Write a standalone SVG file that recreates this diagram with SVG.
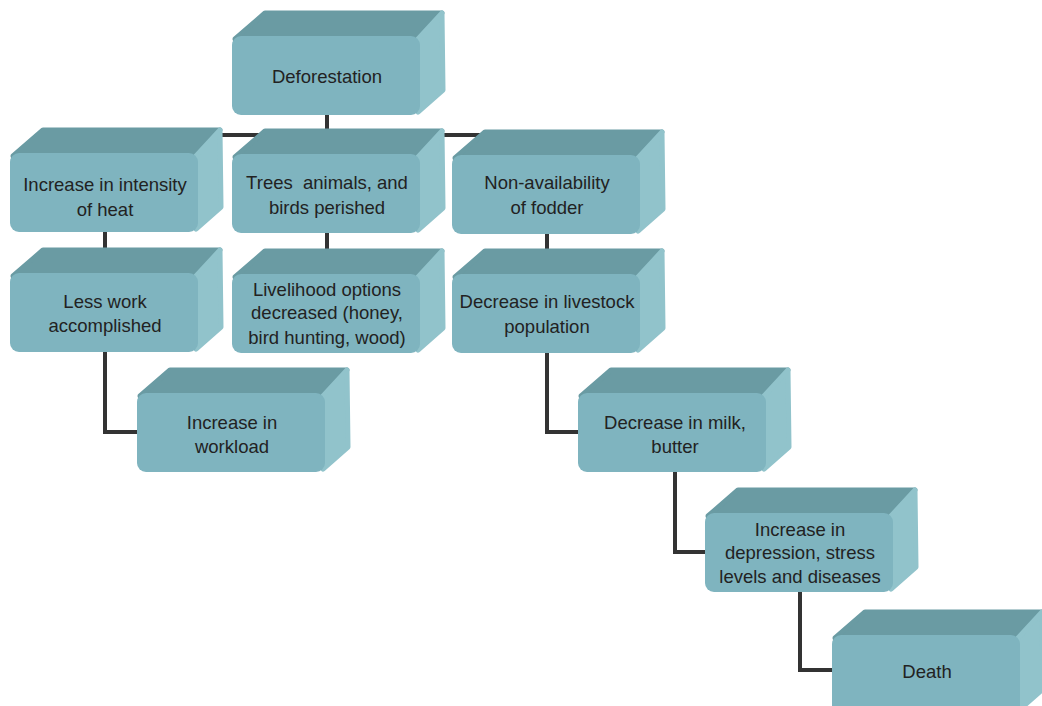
<svg xmlns="http://www.w3.org/2000/svg" xmlns:xlink="http://www.w3.org/1999/xlink" width="1042" height="706" viewBox="0 0 1042 706">
<style>
.top{fill:#6a9ba3;stroke:#6a9ba3;stroke-width:5;stroke-linejoin:round}
.side{fill:#91c3cb;stroke:#91c3cb;stroke-width:5;stroke-linejoin:round}
.front{fill:#7fb4bf}
.conn{fill:none;stroke:#333333;stroke-width:4}
text{font-family:"Liberation Sans",Arial,sans-serif;font-size:18.5px;fill:#222222;text-anchor:middle}
</style>
<defs>
<g id="box">
<polygon class="top" points="3,3 33,-23 210,-23 186,3"/>
<polygon class="side" points="186,3 210,-23 211,54 186,76"/>
<rect class="front" x="0" y="0" width="188" height="79" rx="9"/>
</g>
</defs>
<rect width="1042" height="706" fill="#ffffff"/>
<g id="connectors">
<path class="conn" d="M327,110 V135 M220,135 H485"/>
<path class="conn" d="M105,228 V256 M327,228 V256 M547,230 V256"/>
<path class="conn" d="M105,348 V432 H140"/>
<path class="conn" d="M547,348 V432 H580"/>
<path class="conn" d="M675,468 V552 H708"/>
<path class="conn" d="M800,585 V670 H835"/>
</g>
<g id="n1" transform="translate(232,36)"><use xlink:href="#box"/><text x="95" y="47">Deforestation</text></g>
<g id="n2" transform="translate(10,153)"><use xlink:href="#box"/><text x="95" y="38">Increase in intensity</text><text x="95" y="63">of heat</text></g>
<g id="n3" transform="translate(232,154)"><use xlink:href="#box"/><text x="95" y="35" xml:space="preserve">Trees  animals, and</text><text x="95" y="60">birds perished</text></g>
<g id="n4" transform="translate(452,155)"><use xlink:href="#box"/><text x="95" y="34">Non-availability</text><text x="95" y="59">of fodder</text></g>
<g id="n5" transform="translate(10,273)"><use xlink:href="#box"/><text x="95" y="35">Less work</text><text x="95" y="59">accomplished</text></g>
<g id="n6" transform="translate(232,274)"><use xlink:href="#box"/><text x="95" y="22">Livelihood options</text><text x="95" y="45">decreased (honey,</text><text x="95" y="70">bird hunting, wood)</text></g>
<g id="n7" transform="translate(452,274)"><use xlink:href="#box"/><text x="95" y="34">Decrease in livestock</text><text x="95" y="59">population</text></g>
<g id="n8" transform="translate(137,393)"><use xlink:href="#box"/><text x="95" y="36">Increase in</text><text x="95" y="60">workload</text></g>
<g id="n9" transform="translate(578,393)"><use xlink:href="#box"/><text x="97" y="36">Decrease in milk,</text><text x="97" y="60">butter</text></g>
<g id="n10" transform="translate(705,513)"><use xlink:href="#box"/><text x="95" y="23">Increase in</text><text x="95" y="46">depression, stress</text><text x="95" y="70">levels and diseases</text></g>
<g id="n11" transform="translate(832,635)"><use xlink:href="#box"/><text x="95" y="43">Death</text></g>
</svg>
